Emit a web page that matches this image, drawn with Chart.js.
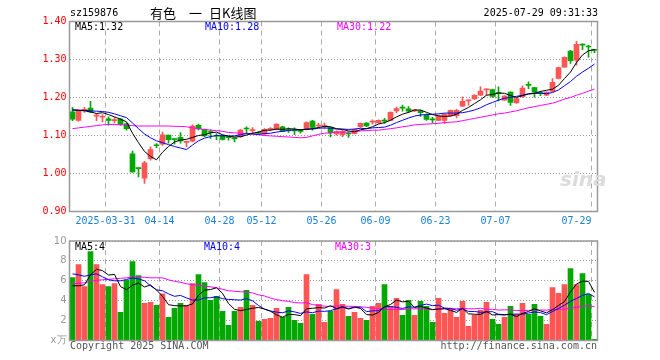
<!DOCTYPE html>
<html><head><meta charset="utf-8">
<script src="https://cdn.jsdelivr.net/npm/chart.js@4.4.1/dist/chart.umd.min.js"></script>
<style>
html,body{margin:0;padding:0;background:#fff;}
#wrap{position:relative;width:660px;height:360px;overflow:hidden;font-family:'DejaVu Sans Mono',monospace;}
canvas{position:absolute;left:0;}
.t{position:absolute;white-space:pre;font-size:10px;line-height:12px;font-family:'DejaVu Sans Mono',monospace;}
.cj{position:absolute;white-space:pre;font-family:'Noto Sans CJK SC',sans-serif;font-size:13px;line-height:18px;color:#000;top:4px;}
</style></head><body>
<div id="wrap">
<canvas id="pc" width="660" height="232" style="top:0px"></canvas>
<canvas id="vc" width="660" height="128" style="top:232px"></canvas>
<div class="t" style="left:70px;top:7px;color:#000;">sz159876</div>
<div class="cj" style="left:150px;">有色</div>
<div class="cj" style="left:189px;">一</div>
<div class="cj" style="left:209px;">日K线图</div>
<div class="t" style="right:62px;top:7px;color:#000;">2025-07-29 09:31:33</div>
<div class="t" style="left:75px;top:21px;color:#000;">MA5:1.32</div>
<div class="t" style="left:205px;top:21px;color:#0000ff;">MA10:1.28</div>
<div class="t" style="left:337px;top:21px;color:#ff00ff;">MA30:1.22</div>
<div class="t" style="left:75px;top:241px;color:#000;">MA5:4</div>
<div class="t" style="left:204px;top:241px;color:#0000ff;">MA10:4</div>
<div class="t" style="left:335px;top:241px;color:#ff00ff;">MA30:3</div>
<div class="t" style="left:70px;top:340px;color:#555;">Copyright 2025 SINA.COM</div>
<div class="t" style="right:63px;top:340px;color:#555;">http://finance.sina.com.cn</div>
<div class="t" style="left:560px;top:168px;font-family:'DejaVu Sans',sans-serif;font-style:italic;font-weight:bold;font-size:20px;line-height:22px;color:#dcdcdc;">sina</div>
</div>
<script>
const dates = ['03-21','03-24','03-25','03-26','03-27','03-28','03-31',
'04-01','04-02','04-03','04-07','04-08','04-09','04-10','04-11','04-14','04-15','04-16','04-17','04-18','04-21','04-22','04-23','04-24','04-25','04-28','04-29','04-30',
'05-06','05-07','05-08','05-09','05-12','05-13','05-14','05-15','05-16','05-19','05-20','05-21','05-22','05-23','05-26','05-27','05-28','05-29','05-30',
'06-03','06-04','06-05','06-06','06-09','06-10','06-11','06-12','06-13','06-16','06-17','06-18','06-19','06-20','06-23','06-24','06-25','06-26','06-27','06-30',
'07-01','07-02','07-03','07-04','07-07','07-08','07-09','07-10','07-11','07-14','07-15','07-16','07-17','07-18','07-21','07-22','07-23','07-24','07-25','07-28','07-29'];
const tickDates = ['03-31','04-14','04-28','05-12','05-26','06-09','06-23','07-07','07-29'];
const tickTexts = ['2025-03-31','04-14','04-28','05-12','05-26','06-09','06-23','07-07','07-29'];
const priceTicks = [0.9,1.0,1.1,1.2,1.3,1.4];
const volTicks = [0,2,4,6,8,10];

const open = [1.162,1.140,1.166,1.172,1.151,1.148,1.144,1.139,1.143,1.131,
1.052,1.015,0.988,1.039,1.075,1.077,1.101,1.090,1.095,1.082,
1.085,1.127,1.116,1.110,1.100,1.100,1.096,1.093,1.097,1.119,
1.113,1.108,1.104,1.116,1.116,1.123,1.115,1.114,1.113,1.116,
1.138,1.125,1.124,1.121,1.104,1.102,1.106,1.105,1.123,1.133,
1.135,1.133,1.140,1.140,1.165,1.174,1.170,1.165,1.164,1.153,
1.143,1.140,1.140,1.152,1.152,1.177,1.191,1.196,1.206,1.220,
1.221,1.212,1.193,1.214,1.186,1.202,1.234,1.226,1.213,1.206,
1.216,1.250,1.280,1.322,1.298,1.340,1.335,1.326];
const high = [1.174,1.167,1.174,1.190,1.158,1.155,1.149,1.147,1.145,1.133,
1.059,1.015,1.032,1.070,1.079,1.109,1.101,1.091,1.108,1.085,
1.128,1.130,1.117,1.115,1.105,1.101,1.098,1.094,1.116,1.123,
1.121,1.110,1.118,1.121,1.131,1.124,1.120,1.120,1.116,1.136,
1.140,1.133,1.133,1.122,1.112,1.114,1.109,1.117,1.133,1.134,
1.141,1.141,1.145,1.162,1.175,1.180,1.176,1.168,1.167,1.157,
1.148,1.152,1.157,1.167,1.169,1.202,1.194,1.208,1.228,1.223,
1.222,1.228,1.205,1.215,1.198,1.231,1.241,1.227,1.216,1.215,
1.250,1.280,1.307,1.324,1.348,1.341,1.337,1.327];
const low = [1.139,1.138,1.161,1.160,1.139,1.136,1.127,1.133,1.127,1.114,
1.003,0.991,0.974,1.035,1.068,1.074,1.080,1.077,1.080,1.070,
1.083,1.115,1.097,1.092,1.089,1.088,1.088,1.083,1.095,1.105,
1.105,1.104,1.100,1.113,1.115,1.110,1.108,1.102,1.106,1.115,
1.114,1.121,1.117,1.096,1.101,1.097,1.095,1.104,1.121,1.123,
1.130,1.132,1.132,1.139,1.160,1.164,1.160,1.163,1.150,1.140,
1.133,1.139,1.132,1.150,1.146,1.176,1.180,1.195,1.205,1.206,
1.200,1.191,1.192,1.179,1.185,1.200,1.223,1.201,1.205,1.205,
1.215,1.249,1.279,1.290,1.285,1.326,1.306,1.318];
const close = [1.143,1.165,1.169,1.162,1.153,1.150,1.140,1.141,1.129,1.118,
1.004,1.013,1.028,1.063,1.073,1.102,1.089,1.089,1.086,1.084,
1.125,1.117,1.099,1.108,1.098,1.090,1.094,1.091,1.114,1.117,
1.115,1.106,1.116,1.118,1.130,1.111,1.113,1.112,1.111,1.134,
1.121,1.127,1.126,1.107,1.110,1.111,1.104,1.116,1.132,1.125,
1.137,1.140,1.138,1.161,1.171,1.172,1.164,1.167,1.160,1.142,
1.141,1.151,1.156,1.166,1.166,1.190,1.193,1.206,1.217,1.222,
1.203,1.210,1.204,1.187,1.197,1.225,1.232,1.214,1.211,1.214,
1.240,1.279,1.306,1.297,1.340,1.338,1.333,1.324];
const ma5 = [1.167,1.166,1.165,1.162,1.158,1.160,1.155,1.149,1.143,1.136,
1.106,1.081,1.058,1.045,1.036,1.056,1.071,1.083,1.088,1.090,
1.095,1.100,1.102,1.107,1.109,1.102,1.098,1.096,1.097,1.101,
1.106,1.109,1.114,1.114,1.117,1.116,1.118,1.117,1.115,1.116,
1.118,1.121,1.124,1.123,1.118,1.116,1.112,1.110,1.115,1.118,
1.123,1.130,1.134,1.140,1.149,1.156,1.161,1.167,1.167,1.161,
1.155,1.152,1.150,1.151,1.156,1.166,1.174,1.184,1.194,1.206,
1.208,1.212,1.211,1.205,1.200,1.205,1.209,1.211,1.216,1.219,
1.222,1.232,1.250,1.267,1.292,1.312,1.323,1.326];
const ma10 = [1.168,1.167,1.166,1.165,1.164,1.163,1.161,1.157,1.152,1.147,
1.133,1.118,1.104,1.094,1.086,1.081,1.076,1.071,1.067,1.063,
1.075,1.086,1.093,1.097,1.100,1.099,1.099,1.099,1.102,1.105,
1.104,1.103,1.105,1.106,1.109,1.111,1.113,1.115,1.115,1.117,
1.117,1.119,1.120,1.119,1.117,1.117,1.116,1.117,1.119,1.118,
1.120,1.121,1.122,1.127,1.134,1.140,1.146,1.151,1.154,1.155,
1.156,1.157,1.159,1.159,1.159,1.160,1.163,1.167,1.173,1.181,
1.187,1.193,1.198,1.200,1.203,1.206,1.210,1.211,1.211,1.210,
1.213,1.220,1.231,1.242,1.256,1.267,1.277,1.288];
const ma30 = [1.118,1.120,1.122,1.124,1.126,1.128,1.129,1.129,1.128,1.127,
1.126,1.125,1.125,1.125,1.125,1.125,1.125,1.124,1.124,1.123,
1.120,1.118,1.116,1.114,1.113,1.111,1.108,1.107,1.106,1.105,
1.104,1.102,1.100,1.099,1.098,1.097,1.096,1.095,1.094,1.095,
1.099,1.103,1.106,1.107,1.109,1.109,1.109,1.110,1.112,1.113,
1.114,1.114,1.116,1.118,1.120,1.123,1.125,1.128,1.129,1.130,
1.131,1.132,1.134,1.135,1.136,1.139,1.142,1.145,1.148,1.151,
1.154,1.157,1.159,1.162,1.165,1.169,1.173,1.176,1.179,1.182,
1.185,1.190,1.196,1.200,1.206,1.211,1.217,1.222];
const volume = [6.33,7.63,5.43,8.93,7.63,5.63,5.43,5.73,2.83,6.05,
7.93,6.53,3.73,3.83,3.53,4.7,2.33,3.23,3.73,3.53,
5.73,6.63,5.83,4.03,4.43,2.93,1.53,2.93,3.33,5.03,
3.53,1.93,2.13,2.23,3.23,2.33,3.33,2.03,1.73,6.63,
2.63,3.63,1.83,2.93,5.13,3.63,2.43,2.83,2.23,2.03,
3.43,3.73,5.63,3.43,4.23,2.53,4.03,2.53,3.93,3.43,
1.83,4.23,2.73,3.13,2.33,3.93,1.43,2.53,3.03,3.83,
2.13,1.63,2.33,3.43,2.63,3.73,2.63,3.63,2.43,1.63,
5.33,4.73,5.63,7.23,5.63,6.73,4.63,0.13];
const vma5 = [5.5,5.5,5.6,6.6,7.16,7.02,6.58,6.64,5.42,5.10,
5.56,5.78,5.38,5.58,5.08,4.44,3.60,3.50,3.48,3.48,
3.68,4.54,5.06,5.12,5.30,4.74,3.72,3.14,3.00,3.12,
3.24,3.32,3.16,2.94,2.58,2.34,2.62,2.60,2.50,3.18,
3.24,3.30,3.26,3.50,3.20,3.40,3.16,3.36,3.22,2.60,
2.56,2.82,3.38,3.62,4.06,3.88,3.94,3.32,3.42,3.26,
3.12,3.16,3.20,3.04,2.82,3.24,2.68,2.64,2.62,2.92,
2.56,2.60,2.56,2.64,2.40,2.72,2.92,3.18,2.98,2.78,
3.10,3.52,3.92,4.88,5.68,5.96,5.94,4.84];
const vma10 = [6.7,6.6,6.45,6.6,6.7,6.4,6.1,6.0,6.0,6.13,
6.29,6.18,6.01,5.50,5.09,5.00,4.69,4.44,4.53,4.28,
4.06,4.07,4.28,4.30,4.39,4.21,4.13,4.10,4.06,4.21,
3.99,3.52,3.15,2.97,2.85,2.79,2.97,2.88,2.72,2.88,
2.79,2.96,2.93,3.00,3.19,3.32,3.23,3.31,3.36,2.90,
2.98,2.99,3.37,3.42,3.33,3.22,3.38,3.35,3.52,3.66,
3.50,3.55,3.26,3.23,3.04,3.18,2.92,2.92,2.83,2.87,
2.90,2.64,2.60,2.63,2.66,2.64,2.76,2.87,2.81,2.59,
2.91,3.22,3.55,3.93,4.23,4.53,4.73,4.38];
const vma30 = [5.7,5.75,5.8,5.95,6.05,6.1,6.15,6.2,6.25,6.3,
6.4,6.4,6.35,6.3,6.3,6.3,6.1,5.95,5.85,5.7,
5.6,5.55,5.45,5.4,5.3,5.15,5.0,4.95,4.9,4.87,
4.78,4.59,4.48,4.26,4.11,4.00,3.93,3.81,3.77,3.79,
3.61,3.52,3.45,3.42,3.48,3.44,3.44,3.43,3.38,3.33,
3.25,3.16,3.15,3.13,3.12,3.11,3.19,3.18,3.20,3.15,
3.09,3.17,3.19,3.22,3.19,3.24,3.18,3.19,3.24,3.14,
3.13,3.06,3.08,3.09,3.01,3.01,3.03,3.05,3.06,3.05,
3.11,3.14,3.14,3.27,3.32,3.46,3.48,3.40];

const RED = '#ff5555', GREEN = '#00a800';
const candleColors = open.map((o, i) => close[i] >= o ? RED : GREEN);
const isGridIdx = i => i < dates.length && tickDates.includes(dates[i]);
const frame = { id: 'frame', afterDraw(c) {
  const a = c.chartArea, ctx = c.ctx;
  ctx.save(); ctx.strokeStyle = '#999'; ctx.lineWidth = 1.5;
  ctx.strokeRect(a.left, a.top, a.right - a.left, a.bottom - a.top);
  ctx.restore();
}};
const lineDs = (data, color) => ({ type: 'line', data, borderColor: color, borderWidth: 1, pointRadius: 0, tension: 0, order: 0, fill: false });
const xScale = (showLabels, h) => ({
  type: 'category', offset: true,
  grid: { offset: true, drawTicks: false, lineWidth: 1, color: ctx => isGridIdx(ctx.index) ? '#aaaaaa' : 'rgba(0,0,0,0)' },
  border: { display: false, dash: [5, 4] },
  ticks: { display: showLabels, autoSkip: false, maxRotation: 0, minRotation: 0, labelOffset: -3, padding: 4,
    color: '#1a82d6', font: { family: 'DejaVu Sans Mono', size: 10 },
    callback: (v, i) => { const k = tickDates.indexOf(dates[i]); if (k < 0) return ''; return i === dates.length - 1 ? tickTexts[k] + '     ' : tickTexts[k]; } },
  afterFit(s) { s.height = h; }
});
const common = { responsive: false, animation: false, devicePixelRatio: 1, events: [],
  plugins: { legend: { display: false }, tooltip: { enabled: false } } };

new Chart(document.getElementById('pc'), {
  type: 'bar',
  data: { labels: dates, datasets: [
    lineDs(ma5, '#000000'), lineDs(ma10, '#0000ff'), lineDs(ma30, '#ff00ff'),
    { type: 'bar', data: low.map((l, i) => [l, high[i]]), backgroundColor: candleColors, barThickness: 1, grouped: false, order: 2, borderWidth: 0 },
    { type: 'bar', data: open.map((o, i) => [o, close[i]]), backgroundColor: candleColors, barThickness: 5, minBarLength: 1, grouped: false, order: 1, borderWidth: 0 }
  ]},
  options: Object.assign({}, common, {
    layout: { padding: { left: 0, right: 62.5, top: 21.5, bottom: 0 } },
    scales: {
      x: xScale(true, 20.5),
      y: { min: priceTicks[0], max: priceTicks[priceTicks.length - 1],
        afterBuildTicks(s) { s.ticks = priceTicks.map(v => ({ value: v })); },
        ticks: { color: '#ff0000', padding: 3, font: { family: 'DejaVu Sans Mono', size: 10 }, callback: v => Number(v).toFixed(2) },
        grid: { drawTicks: false, color: '#999999', lineWidth: 1 },
        border: { display: false, dash: [1, 2] },
        afterFit(s) { s.width = 69.5; } }
    }
  }),
  plugins: [frame]
});

new Chart(document.getElementById('vc'), {
  type: 'bar',
  data: { labels: dates, datasets: [
    lineDs(vma5, '#000000'), lineDs(vma10, '#0000ff'), lineDs(vma30, '#ff00ff'),
    { type: 'bar', data: volume, backgroundColor: candleColors, barThickness: 5, grouped: false, order: 1, borderWidth: 0 }
  ]},
  options: Object.assign({}, common, {
    layout: { padding: { left: 0, right: 62.5, top: 8.5, bottom: 0 } },
    scales: {
      x: xScale(false, 19.5),
      y: { min: volTicks[0], max: volTicks[volTicks.length - 1],
        afterBuildTicks(s) { s.ticks = volTicks.map(v => ({ value: v })); },
        ticks: { color: '#999999', padding: 3, font: { family: 'DejaVu Sans', size: 10 }, callback: v => v === 0 ? 'x万' : String(v) },
        grid: { drawTicks: false, color: '#999999', lineWidth: 1 },
        border: { display: false, dash: [1, 2] },
        afterFit(s) { s.width = 69.5; } }
    }
  }),
  plugins: [frame]
});
</script>
</body></html>
